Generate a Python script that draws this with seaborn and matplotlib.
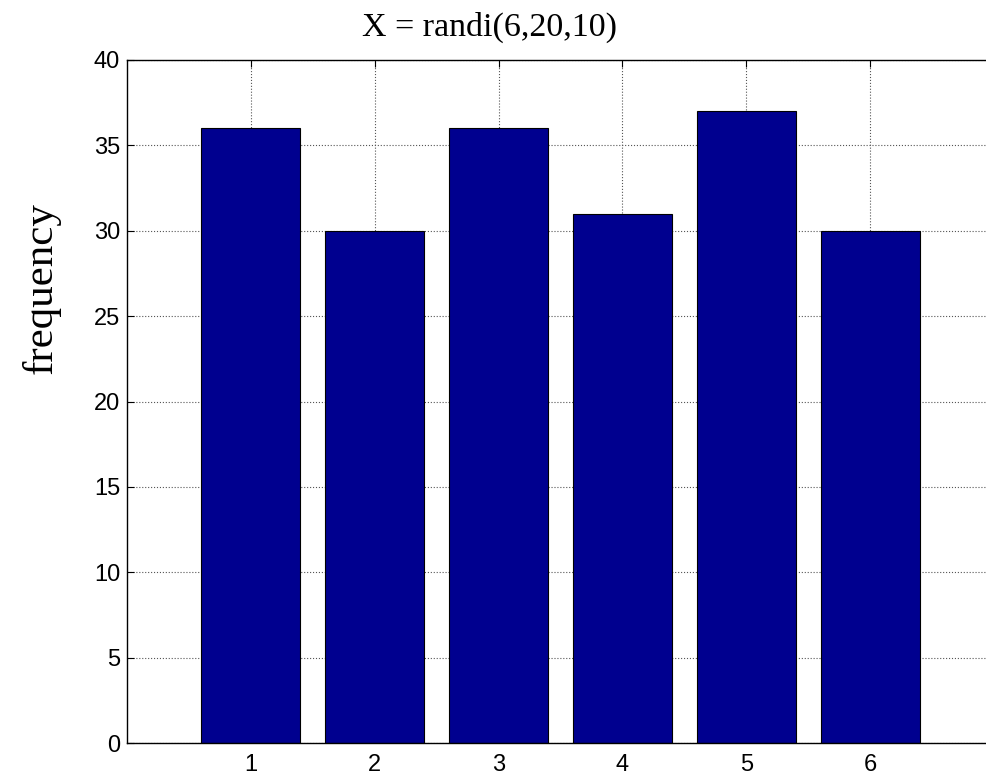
import matplotlib
matplotlib.use("Agg")
import matplotlib.pyplot as plt
import seaborn as sns
import pandas as pd

# Counts of each outcome
outcomes = [1, 2, 3, 4, 5, 6]
frequency = [36, 30, 36, 31, 37, 30]
yticks = [0, 5, 10, 15, 20, 25, 30, 35, 40]

df = pd.DataFrame({"outcome": outcomes, "frequency": frequency})

sns.set_theme(style="white")
plt.rcParams["font.family"] = ["Liberation Sans", "DejaVu Sans"]
plt.rcParams["text.color"] = "black"

fig = plt.figure(figsize=(9.87, 7.77), dpi=100)
ax = fig.add_axes([127 / 987, 1 - 743 / 777, (994 - 127) / 987, (743 - 60) / 777])

sns.barplot(data=df, x="outcome", y="frequency", native_scale=True, width=0.8,
            color="#00008F", saturation=1, edgecolor="black", linewidth=0.8, ax=ax)

ax.set_xlim(0, 7)
ax.set_ylim(0, 40)
ax.set_xticks(outcomes)
ax.set_xticklabels([str(o) for o in outcomes])
ax.set_yticks(yticks)
ax.set_yticklabels([str(t) for t in yticks])
ax.set_xlabel("")
ax.set_ylabel("")

ax.set_axisbelow(True)
ax.grid(True, linestyle=":", color="#555555", linewidth=0.8)
for s in ax.spines.values():
    s.set_visible(True)
    s.set_color("black")
    s.set_linewidth(1.0)
ax.tick_params(axis="both", which="both", direction="in", length=5, width=0.8,
               top=True, right=True, bottom=True, left=True,
               labelsize=17, colors="black")
ax.tick_params(axis="x", pad=8)
ax.tick_params(axis="y", pad=5)

fig.text(490 / 987, 1 - 36 / 777, "X = randi(6,20,10)", ha="center", va="baseline",
         fontsize=24.5, color="black", family=["Liberation Serif", "DejaVu Serif"])
fig.text(52 / 987, 1 - 288 / 777, "frequency", ha="center", va="baseline",
         rotation=90, rotation_mode="anchor", fontsize=31, color="black",
         family=["Liberation Serif", "DejaVu Serif"])

fig.savefig("out.png", dpi=100)
